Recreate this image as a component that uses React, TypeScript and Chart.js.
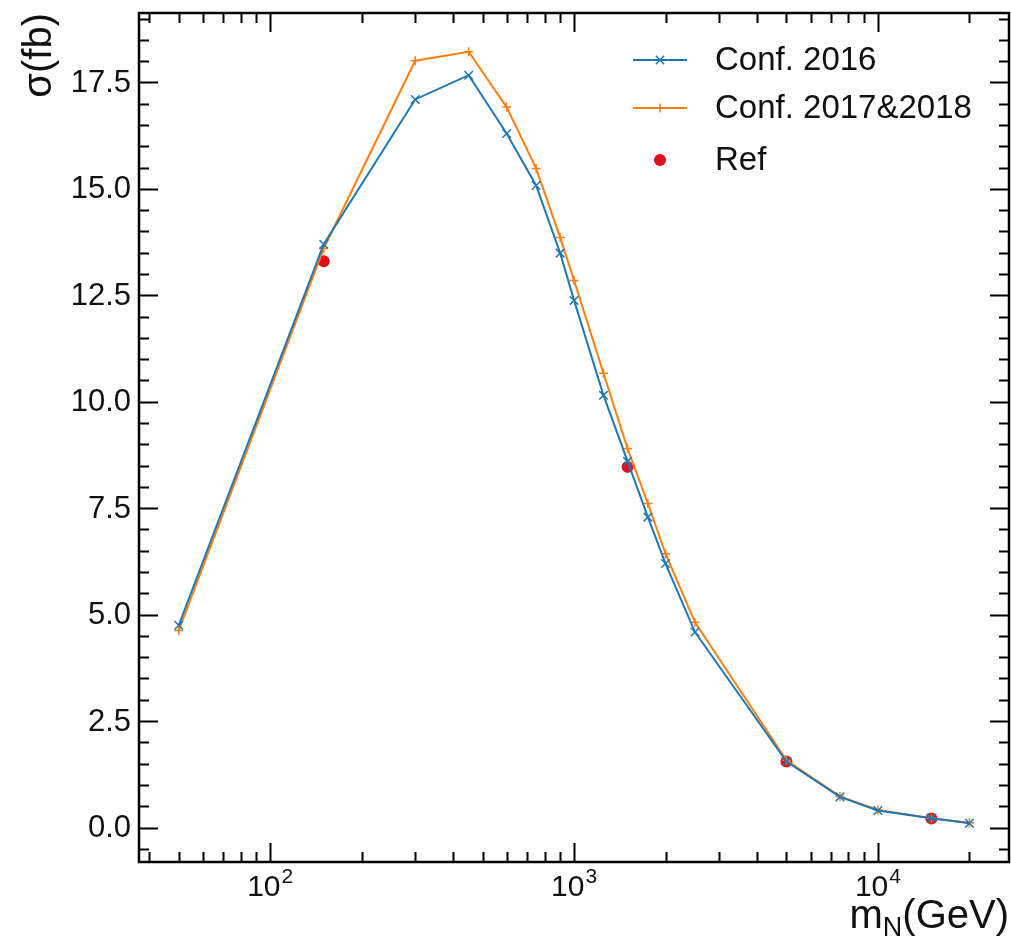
import { useEffect, useRef } from "react";
import { Chart, registerables } from "chart.js";

Chart.register(...registerables);

// Heavy-neutrino mass points (GeV)
const MASSES = [50, 150, 300, 450, 600, 750, 900, 1000, 1250, 1500, 1750, 2000, 2500, 5000, 7500, 10000, 15000, 20000];
// Cross sections (fb) for the two configurations
const CONF_2016 = [4.75, 13.7, 17.1, 17.67, 16.3, 15.08, 13.49, 12.38, 10.15, 8.6, 7.29, 6.2, 4.59, 1.55, 0.72, 0.4, 0.22, 0.1];
const CONF_2017_2018 = [4.63, 13.6, 18.01, 18.22, 16.92, 15.48, 13.86, 12.85, 10.67, 8.9, 7.61, 6.43, 4.82, 1.58, 0.73, 0.41, 0.22, 0.11];
// Reference values
const REF_MASSES = [150, 1500, 5000, 15000];
const REF_XSEC = [13.3, 8.47, 1.55, 0.21];

// Axis ticks
const X_MAJOR_TICKS = [100, 1000, 10000];
const X_TICK_EXPONENTS = ["2", "3", "4"];
const Y_TICKS = [0, 2.5, 5, 7.5, 10, 12.5, 15, 17.5];
const Y_TICK_LABELS = ["0.0", "2.5", "5.0", "7.5", "10.0", "12.5", "15.0", "17.5"];

const X_MIN = 37;
const X_MAX = 27000;
const Y_MIN = -0.81;
const Y_MAX = 19.13;

const BLUE = "#1f77b4";
const ORANGE = "#ff7f0e";
const RED = "#e0101e";
const FONT = '"Liberation Sans", Arial, Helvetica, sans-serif';

const MAJOR_LEN = 19;
const MINOR_LEN = 10;

function drawMarker(ctx: CanvasRenderingContext2D, style: string, x: number, y: number, color: string) {
  ctx.save();
  ctx.strokeStyle = color;
  ctx.fillStyle = color;
  ctx.lineWidth = 1.5;
  ctx.beginPath();
  if (style === "crossRot") {
    const d = 4.2;
    ctx.moveTo(x - d, y - d);
    ctx.lineTo(x + d, y + d);
    ctx.moveTo(x - d, y + d);
    ctx.lineTo(x + d, y - d);
    ctx.stroke();
  } else if (style === "cross") {
    const d = 4.5;
    ctx.moveTo(x - d, y);
    ctx.lineTo(x + d, y);
    ctx.moveTo(x, y - d);
    ctx.lineTo(x, y + d);
    ctx.stroke();
  } else {
    ctx.arc(x, y, 6, 0, Math.PI * 2);
    ctx.fill();
  }
  ctx.restore();
}

const framePlugin = {
  id: "frameTicksLabels",
  afterDatasetsDraw(chart: any) {
    const { ctx, chartArea: a, scales } = chart;
    const xs = scales.x;
    const ys = scales.y;
    ctx.save();
    ctx.strokeStyle = "#000";
    ctx.lineCap = "butt";

    // y ticks, inward on left and right
    ctx.lineWidth = 2;
    ctx.beginPath();
    for (let i = Math.ceil(Y_MIN / 0.5); i * 0.5 <= Y_MAX; i++) {
      const v = i * 0.5;
      const major = Y_TICKS.some((t) => Math.abs(t - v) < 1e-9);
      const len = major ? MAJOR_LEN : MINOR_LEN;
      const py = Math.round(ys.getPixelForValue(v)) + 0.5;
      ctx.moveTo(a.left, py);
      ctx.lineTo(a.left + len, py);
      ctx.moveTo(a.right, py);
      ctx.lineTo(a.right - len, py);
    }
    // x ticks, inward on bottom and top
    for (let dec = 10; dec <= 100000; dec *= 10) {
      for (let k = 1; k <= 9; k++) {
        const v = k * dec;
        if (v < X_MIN || v > X_MAX) continue;
        const len = k === 1 ? MAJOR_LEN : MINOR_LEN;
        const px = Math.round(xs.getPixelForValue(v)) + 0.5;
        ctx.moveTo(px, a.bottom);
        ctx.lineTo(px, a.bottom - len);
        ctx.moveTo(px, a.top);
        ctx.lineTo(px, a.top + len);
      }
    }
    ctx.stroke();

    // frame
    ctx.lineWidth = 2.5;
    ctx.strokeRect(a.left, a.top, a.right - a.left, a.bottom - a.top);

    // y tick labels
    ctx.fillStyle = "#111";
    ctx.font = `31px ${FONT}`;
    ctx.textAlign = "right";
    ctx.textBaseline = "middle";
    Y_TICKS.forEach((v, i) => {
      ctx.fillText(Y_TICK_LABELS[i], a.left - 8, ys.getPixelForValue(v) + 1);
    });

    // x tick labels: 10 with superscript exponent
    ctx.textAlign = "left";
    ctx.textBaseline = "alphabetic";
    X_MAJOR_TICKS.forEach((v, i) => {
      ctx.font = `30px ${FONT}`;
      const wBase = ctx.measureText("10").width;
      ctx.font = `21px ${FONT}`;
      const wExp = ctx.measureText(X_TICK_EXPONENTS[i]).width;
      const cx = xs.getPixelForValue(v);
      const x0 = cx - (wBase + wExp + 1) / 2;
      ctx.font = `30px ${FONT}`;
      ctx.fillText("10", x0, a.bottom + 34);
      ctx.font = `21px ${FONT}`;
      ctx.fillText(X_TICK_EXPONENTS[i], x0 + wBase + 1, a.bottom + 21);
    });

    // x axis title: m_N(GeV), right aligned
    ctx.font = `40px ${FONT}`;
    const wm = ctx.measureText("m").width;
    const wRest = ctx.measureText("(GeV)").width;
    ctx.font = `27px ${FONT}`;
    const wN = ctx.measureText("N").width;
    const xStart = a.right - (wm + wN + wRest);
    const base = a.bottom + 66;
    ctx.font = `40px ${FONT}`;
    ctx.fillText("m", xStart, base);
    ctx.font = `27px ${FONT}`;
    ctx.fillText("N", xStart + wm, base + 8);
    ctx.font = `40px ${FONT}`;
    ctx.fillText("(GeV)", xStart + wm + wN, base);

    // y axis title, rotated, top aligned
    ctx.save();
    ctx.translate(40, a.top);
    ctx.rotate(-Math.PI / 2);
    ctx.textAlign = "right";
    ctx.textBaseline = "middle";
    ctx.font = `40px ${FONT}`;
    ctx.fillText("σ(fb)", 0, 0);
    ctx.restore();

    // legend
    const lx0 = 633;
    const lx1 = 687;
    const rows = [60, 108, 160];
    chart.data.datasets.forEach((ds: any, i: number) => {
      const y = rows[i];
      if (ds.showLine !== false) {
        ctx.strokeStyle = ds.borderColor;
        ctx.lineWidth = 2;
        ctx.beginPath();
        ctx.moveTo(lx0, y);
        ctx.lineTo(lx1, y);
        ctx.stroke();
      }
      drawMarker(ctx, ds.pointStyle, (lx0 + lx1) / 2, y, ds.borderColor);
      ctx.fillStyle = "#111";
      ctx.font = `33px ${FONT}`;
      ctx.textAlign = "left";
      ctx.textBaseline = "middle";
      ctx.fillText(ds.label, 715, y + 1);
    });

    ctx.restore();
  },
};

export default function App() {
  const canvasRef = useRef<HTMLCanvasElement | null>(null);

  useEffect(() => {
    document.body.style.margin = "0";
    const canvas = canvasRef.current;
    if (!canvas) return;

    const chart = new Chart(canvas, {
      type: "line",
      data: {
        datasets: [
          {
            label: "Conf. 2016",
            data: MASSES.map((m, i) => ({ x: m, y: CONF_2016[i] })),
            borderColor: BLUE,
            backgroundColor: BLUE,
            borderWidth: 2,
            pointStyle: "crossRot",
            pointRadius: 6,
            pointBorderWidth: 1.5,
            tension: 0,
          },
          {
            label: "Conf. 2017&2018",
            data: MASSES.map((m, i) => ({ x: m, y: CONF_2017_2018[i] })),
            borderColor: ORANGE,
            backgroundColor: ORANGE,
            borderWidth: 2,
            pointStyle: "cross",
            pointRadius: 4.5,
            pointBorderWidth: 1.5,
            tension: 0,
          },
          {
            label: "Ref",
            data: REF_MASSES.map((m, i) => ({ x: m, y: REF_XSEC[i] })),
            borderColor: RED,
            backgroundColor: RED,
            showLine: false,
            pointStyle: "circle",
            pointRadius: 6,
            pointBorderWidth: 0,
          },
        ],
      },
      options: {
        responsive: false,
        animation: false,
        devicePixelRatio: 1,
        events: [],
        layout: { autoPadding: false, padding: { left: 139, right: 2, top: 13, bottom: 88 } },
        plugins: {
          legend: { display: false },
          tooltip: { enabled: false },
        },
        scales: {
          x: { type: "logarithmic", min: X_MIN, max: X_MAX, display: false },
          y: { type: "linear", min: Y_MIN, max: Y_MAX, display: false },
        },
      },
      plugins: [framePlugin],
    });

    return () => chart.destroy();
  }, []);

  return (
    <div style={{ width: 1011, height: 950, background: "#fff" }}>
      <canvas ref={canvasRef} width={1011} height={950} style={{ display: "block" }} />
    </div>
  );
}
